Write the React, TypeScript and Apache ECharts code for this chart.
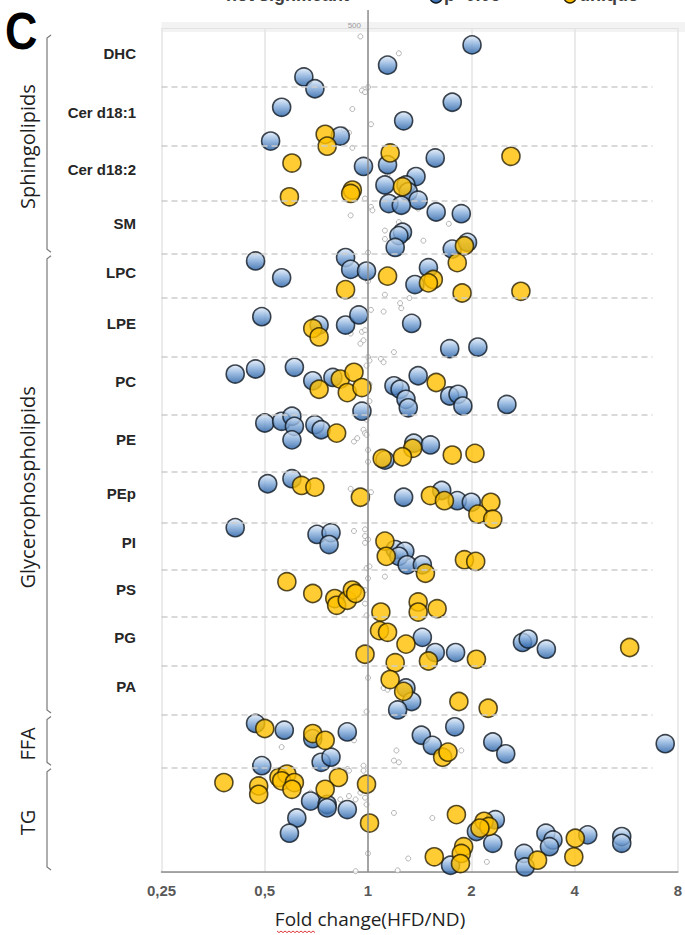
import React, { useEffect, useRef } from 'react';
import * as echarts from 'echarts';

// ---------- data ----------
const categories = ['DHC', 'Cer d18:1', 'Cer d18:2', 'SM', 'LPC', 'LPE', 'PC', 'PE', 'PEp', 'PI', 'PS', 'PG', 'PA', 'FFA', 'TG'];
// row boundaries on the vertical (0-500) scale, top of DHC to bottom of TG
const rowBounds = [500, 465, 430, 397.5, 366, 340, 305, 271, 237, 207, 179, 151, 122, 93, 62, 0];
const groups = [
  { name: 'Sphingolipids', from: 0, to: 3 },
  { name: 'Glycerophospholipids', from: 4, to: 12 },
  { name: 'FFA', from: 13, to: 13 },
  { name: 'TG', from: 14, to: 14 },
];
const seriesNames = ['not significant', 'p<0.05', 'unique'];
const axisTitle = 'Fold change(HFD/ND)';
const panelLetter = 'C';
const topValueLabel = '500';
const separatorEnd = 6.75;

// [fold change, vertical position]
const notSignificant: number[][] = [
  [0.95, 495], [1.23, 485], [0.96, 463], [0.98, 462], [1.0, 465], [0.9, 452], [1.02, 443], [0.85, 440], [0.88, 438], [0.9, 429],
  [1.14, 413], [0.98, 399], [1.02, 394], [1.03, 392], [0.89, 389], [1.23, 385], [1.12, 380], [1.12, 375], [1.45, 374], [1.72, 384],
  [1.4, 393], [1.0, 367], [1.12, 342], [1.32, 340], [1.24, 337], [1.25, 334], [1.11, 332], [1.02, 333], [1.0, 350], [0.96, 320],
  [0.98, 321], [0.89, 319], [0.97, 315], [0.95, 313], [1.19, 308], [1.09, 304], [1.11, 302], [1.0, 305], [1.01, 303], [0.99, 300],
  [1.01, 289], [1.01, 279], [0.99, 268], [0.97, 262], [0.98, 260], [0.91, 255], [0.93, 257], [0.99, 259], [1.0, 250], [1.0, 243],
  [1.02, 225], [0.89, 227], [0.91, 202], [0.98, 203], [0.98, 199], [1.0, 197], [0.98, 195], [0.99, 180], [1.01, 181], [1.0, 174],
  [1.12, 175], [0.98, 167], [0.98, 159], [0.99, 152], [1.0, 115], [1.11, 109], [1.14, 108], [0.99, 95], [0.91, 78], [0.56, 74],
  [1.21, 72], [1.19, 66], [1.23, 65], [1.87, 72], [0.97, 63], [0.97, 60], [0.87, 61], [0.88, 60], [0.68, 47], [0.83, 43],
  [0.88, 45], [0.92, 43], [0.95, 47], [0.98, 44], [0.99, 40], [1.19, 35], [1.54, 32], [1.0, 11], [1.31, 8], [2.22, 6],
  [1.22, 1], [0.92, 0.5],
];
const significant: number[][] = [
  [2.01, 490], [1.14, 478], [0.65, 471], [0.7, 464], [0.56, 453], [1.76, 456], [1.27, 445], [0.52, 433], [0.83, 436],
  [1.14, 419], [0.97, 418], [1.57, 423], [1.38, 412], [1.12, 407], [1.29, 407], [1.31, 403], [1.4, 398],
  [1.15, 396], [1.25, 395], [1.58, 391], [1.87, 390], [1.26, 379], [1.23, 377], [1.2, 370], [1.76, 369], [1.95, 373],
  [0.47, 362], [0.56, 352], [0.86, 364], [0.89, 357], [0.99, 356], [1.5, 358], [1.37, 348],
  [0.49, 329], [0.72, 324], [0.86, 324], [0.94, 330], [1.34, 325], [1.73, 310], [2.09, 311],
  [0.41, 295], [0.47, 298], [0.61, 299], [0.69, 291], [0.79, 293], [1.4, 294], [1.19, 288], [1.24, 286], [1.29, 280],
  [1.31, 275], [1.73, 282], [1.83, 283], [1.89, 276], [2.54, 277], [0.96, 273],
  [0.5, 266], [0.56, 267], [0.6, 270], [0.61, 264], [0.6, 256], [0.7, 265], [0.73, 262], [1.36, 254], [1.52, 253], [1.12, 244],
  [0.51, 230], [0.6, 233], [1.27, 222], [1.64, 226], [1.82, 220], [2.0, 219],
  [0.41, 204], [0.71, 200], [0.78, 201], [0.77, 194], [1.2, 191], [1.28, 190], [1.23, 187], [1.3, 182], [1.44, 182],
  [1.44, 139], [1.57, 130], [1.8, 130], [2.82, 136], [2.93, 138], [3.31, 132],
  [1.29, 109], [1.34, 101], [1.22, 96],
  [0.47, 88], [0.57, 84], [0.69, 79], [0.87, 83], [0.49, 63], [0.73, 65], [0.78, 68], [1.43, 81], [1.54, 75], [1.79, 86],
  [2.31, 77], [2.52, 70], [7.35, 76],
  [0.68, 42], [0.76, 40], [0.76, 38], [0.87, 37], [0.62, 32], [0.59, 23], [2.35, 31], [2.07, 24], [2.31, 17], [1.74, 4],
  [3.3, 23], [3.46, 19], [3.38, 15], [4.37, 22], [5.49, 21], [5.49, 17], [2.85, 11], [2.87, 3],
];
const unique: number[][] = [
  [0.75, 437], [0.76, 430], [1.16, 426], [0.6, 420], [2.61, 424], [1.26, 406], [0.59, 400], [0.9, 404], [0.89, 402],
  [1.91, 371], [1.82, 361], [0.86, 345], [1.14, 353], [1.55, 351], [1.5, 349], [1.88, 343], [2.79, 344],
  [0.69, 322], [0.72, 317],
  [0.72, 286], [0.83, 292], [0.91, 296], [0.87, 284], [0.96, 287], [1.58, 290],
  [0.81, 260], [1.35, 251], [1.1, 245], [1.26, 246], [1.76, 247], [2.05, 248],
  [0.64, 229], [0.7, 228], [0.95, 222], [1.52, 223], [1.67, 220], [2.28, 219], [2.09, 212], [2.31, 209],
  [1.12, 196], [1.13, 187], [1.47, 177], [1.91, 185], [2.06, 184],
  [0.58, 172], [0.69, 165], [0.8, 162], [0.81, 158], [0.87, 161], [0.9, 167], [0.92, 165], [1.4, 160], [1.4, 154], [1.59, 156], [1.09, 154],
  [1.08, 143], [1.14, 142], [1.29, 135], [0.98, 129], [1.2, 124], [1.5, 125], [2.07, 126], [5.79, 133],
  [1.16, 114], [1.27, 107], [1.84, 101], [2.24, 97],
  [0.5, 85], [0.69, 82], [0.75, 78], [1.65, 68], [1.71, 71],
  [0.38, 53], [0.48, 51], [0.48, 46], [0.55, 56], [0.58, 58], [0.56, 54], [0.61, 53], [0.6, 49], [0.82, 56], [0.75, 49],
  [0.99, 52], [1.01, 29], [1.81, 34], [2.18, 30], [2.25, 27], [2.12, 26], [1.9, 15], [1.87, 11], [1.56, 9], [1.86, 5],
  [4.02, 20], [3.98, 9], [3.12, 7],
];

// ---------- styles ----------
const SANS_BOLD = '"Liberation Sans", Arial, sans-serif';
const SANS_SOFT = '"Open Sans", "Noto Sans", sans-serif';
const blueFill = () =>
  new echarts.graphic.LinearGradient(0, 0, 0, 1, [
    { offset: 0, color: '#e2ecf8' },
    { offset: 0.45, color: '#84acdb' },
    { offset: 1, color: '#215ca3' },
  ]);
const ORANGE = '#ffc000';
const OUTLINE = '#0f1822';
const ORANGE_OUTLINE = '#2a2100';

export default function App() {
  const ref = useRef<HTMLDivElement>(null);

  useEffect(() => {
    if (!ref.current) return;
    const chart = echarts.init(ref.current, null, { renderer: 'svg' });

    const separators = rowBounds.slice(1, -1).map((v) => [
      { coord: [0.25, v] },
      { coord: [separatorEnd, v] },
    ]);

    chart.setOption({
      animation: false,
      grid: { left: 161.5, right: 2.5, top: 28, bottom: 63, containLabel: false },
      xAxis: {
        type: 'log',
        logBase: 2,
        min: 0.25,
        max: 8,
        axisLine: { show: true, lineStyle: { color: '#8c8c8c', width: 1.5 } },
        axisTick: { show: false },
        axisLabel: {
          margin: 11,
          color: '#595959',
          fontWeight: 'bold',
          fontSize: 15,
          fontFamily: SANS_BOLD,
          formatter: (v: number) => String(v).replace('.', ','),
        },
        splitLine: { show: true, lineStyle: { color: '#e4e4e4', width: 1.5 } },
      },
      yAxis: {
        type: 'value',
        min: 0,
        max: 500,
        interval: 500,
        axisLine: { show: false },
        axisTick: { show: false },
        axisLabel: { show: false },
        splitLine: { show: true, lineStyle: { color: '#e2e2e2', width: 1 } },
      },
      series: [
        {
          name: seriesNames[0],
          type: 'scatter',
          z: 2,
          data: notSignificant,
          symbol: 'circle',
          symbolSize: 5,
          itemStyle: { color: '#ffffff', borderColor: '#a3a3a3', borderWidth: 1 },
          emphasis: { disabled: true },
          markLine: {
            silent: true,
            symbol: ['none', 'none'],
            label: { show: false },
            emphasis: { disabled: true },
            lineStyle: { type: [6, 4], color: '#cdcdcd', width: 1.5 },
            data: [
              ...separators,
              [
                { coord: [1, 0], lineStyle: { type: 'solid', color: '#8c8c8c', width: 1.5 } },
                { coord: [1, 500] },
              ],
            ],
          },
        },
        {
          name: seriesNames[1],
          type: 'scatter',
          z: 3,
          data: significant,
          symbol: 'circle',
          symbolSize: 18,
          itemStyle: { color: blueFill(), borderColor: OUTLINE, borderWidth: 1.6 },
          emphasis: { disabled: true },
        },
        {
          name: seriesNames[2],
          type: 'scatter',
          z: 4,
          data: unique,
          symbol: 'circle',
          symbolSize: 18,
          itemStyle: { color: ORANGE, borderColor: ORANGE_OUTLINE, borderWidth: 1.6 },
          emphasis: { disabled: true },
        },
      ],
    });

    const P = (x: number, y: number) => chart.convertToPixel({ gridIndex: 0 }, [x, y]) as number[];
    const [gLeft, gTop] = P(0.25, 500);
    const [, gBottom] = P(0.25, 0);
    const [axisX] = P(1, 0);
    const els: any[] = [];

    // light band at top
    els.push({ type: 'rect', z: -1, silent: true, shape: { x: gLeft, y: gTop - 6, width: 685 - gLeft, height: 10 }, style: { fill: '#f3f3f3' } });
    // vertical axis extension above the plot
    els.push({ type: 'line', silent: true, shape: { x1: axisX, y1: 10, x2: axisX, y2: gTop }, style: { stroke: '#8c8c8c', lineWidth: 1.5 } });
    els.push({
      type: 'text', silent: true, x: axisX - 7, y: gTop - 2.5,
      style: { text: topValueLabel, align: 'right', verticalAlign: 'middle', textAlign: 'right', textVerticalAlign: 'middle', fontSize: 8, fontFamily: SANS_BOLD, fill: '#9a9a9a' },
    });

    // panel letter
    els.push({
      type: 'text', silent: true, x: 5, y: 31, scaleX: 0.88,
      style: { text: panelLetter, align: 'left', verticalAlign: 'middle', textAlign: 'left', textVerticalAlign: 'middle', fontSize: 51, fontWeight: 'bold', fontFamily: SANS_BOLD, fill: '#000' },
    });

    // legend (cut off at top of picture, as in the source figure)
    const legendY = -5;
    els.push({ type: 'circle', silent: true, shape: { cx: 218, cy: legendY, r: 3 }, style: { fill: '#fff', stroke: '#a3a3a3', lineWidth: 1 } });
    els.push({ type: 'circle', silent: true, shape: { cx: 436, cy: legendY + 2, r: 6 }, style: { fill: blueFill(), stroke: OUTLINE, lineWidth: 1.5 } });
    els.push({ type: 'circle', silent: true, shape: { cx: 570, cy: legendY + 2, r: 6 }, style: { fill: ORANGE, stroke: ORANGE_OUTLINE, lineWidth: 1.5 } });
    [[226, seriesNames[0]], [444, seriesNames[1]], [579, seriesNames[2]]].forEach(([x, t]) => {
      els.push({
        type: 'text', silent: true, x: x as number, y: legendY,
        style: { text: t as string, align: 'left', verticalAlign: 'middle', textAlign: 'left', textVerticalAlign: 'middle', fontSize: 18, fontWeight: 'bold', fontFamily: SANS_BOLD, fill: '#404040' },
      });
    });

    // row labels (only for groups that hold several rows)
    groups.forEach((g) => {
      if (g.to === g.from) return;
      for (let i = g.from; i <= g.to; i++) {
        const mid = (rowBounds[i] + rowBounds[i + 1]) / 2;
        const [, py] = P(1, mid);
        els.push({
          type: 'text', silent: true, x: 136, y: py - 4,
          style: { text: categories[i], align: 'right', verticalAlign: 'middle', textAlign: 'right', textVerticalAlign: 'middle', fontSize: 15, fontWeight: 'bold', fontFamily: SANS_BOLD, fill: '#262626' },
        });
      }
    });

    // group brackets and labels
    groups.forEach((g) => {
      const [, yTop] = P(1, rowBounds[g.from]);
      const [, yBot] = P(1, rowBounds[g.to + 1]);
      const top = Math.max(yTop + 1.5, gTop + 7);
      const bot = yBot - 2;
      els.push({
        type: 'polyline', silent: true,
        shape: { points: [[51, top], [47, top + 3], [47, bot - 3], [51, bot]] },
        style: { stroke: '#7a7a7a', lineWidth: 1.2, fill: 'none' },
      });
      els.push({
        type: 'text', silent: true, x: 27, y: (top + bot) / 2 + 3, rotation: Math.PI / 2,
        style: { text: g.name, align: 'center', verticalAlign: 'middle', textAlign: 'center', textVerticalAlign: 'middle', fontSize: 20, fontFamily: SANS_SOFT, fill: '#1e1e1e' },
      });
    });

    // axis title with spell-check underline
    els.push({
      type: 'text', silent: true, x: axisX + 2, y: gBottom + 47,
      style: { text: axisTitle, align: 'center', verticalAlign: 'middle', textAlign: 'center', textVerticalAlign: 'middle', fontSize: 19, fontFamily: SANS_SOFT, fill: '#1e1e1e' },
    });
    const wave: number[][] = [];
    for (let x = 277, k = 0; x <= 316; x += 2, k++) wave.push([x, 931 + (k % 2 === 0 ? 0 : 1.6)]);
    els.push({ type: 'polyline', silent: true, shape: { points: wave }, style: { stroke: '#e03a3a', lineWidth: 1, fill: 'none' } });

    chart.setOption({ graphic: { elements: els } });

    return () => chart.dispose();
  }, []);

  return <div ref={ref} style={{ position: 'absolute', left: 0, top: 0, width: 685, height: 935, background: '#fff' }} />;
}
